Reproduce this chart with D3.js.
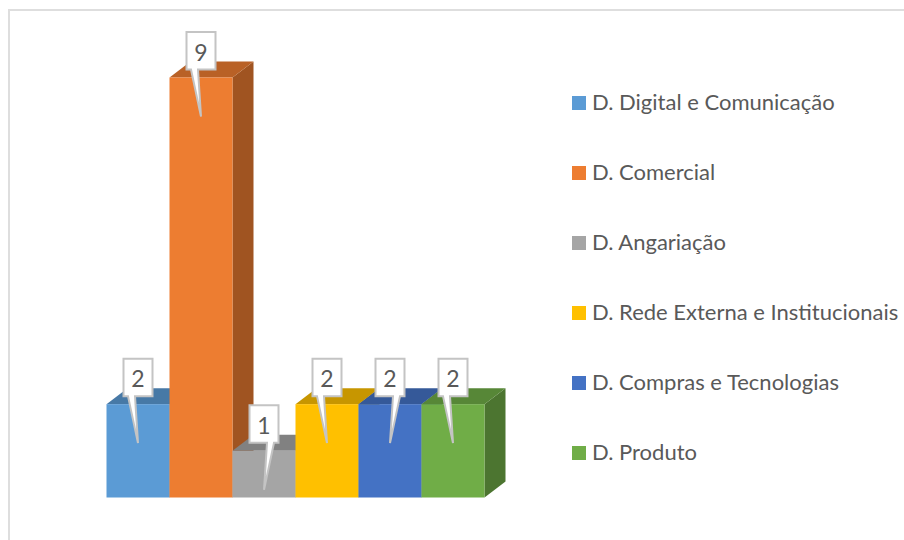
<!DOCTYPE html>
<html>
<head>
<meta charset="utf-8">
<script src="https://cdn.jsdelivr.net/npm/d3@7"></script>
<style>
  html, body { margin: 0; padding: 0; background: #fff; }
  text { font-family: Lato, sans-serif; }
</style>
</head>
<body>
<div id="chart"></div>
<script>
var categories = ['D. Digital e Comunicação', 'D. Comercial', 'D. Angariação',
    'D. Rede Externa e Institucionais', 'D. Compras e Tecnologias', 'D. Produto'];
var values = [2, 9, 1, 2, 2, 2];
var colors = ['#5b9bd5', '#ed7d31', '#a5a5a5', '#ffc000', '#4472c4', '#70ad47'];
// which side of the label the callout tail leaves from
var tailSide = [-1, -1, 1, -1, 1, -1];

var width = 904, height = 540;
var depthX = 21, depthY = 16;

var svg = d3.select('#chart').append('svg')
    .attr('width', width)
    .attr('height', height)
    .style('display', 'block');

// frame runs off the right and bottom of the picture
svg.append('rect')
    .attr('x', 9).attr('y', 10)
    .attr('width', 910).attr('height', 540)
    .attr('fill', '#fff')
    .attr('stroke', '#dedede')
    .attr('stroke-width', 2);

var x = d3.scaleBand().domain(categories).range([106.5, 484.5]);
var y = d3.scaleLinear().domain([0, 9]).range([497.5, 77.5]);

var dark = function (c, k) {
    return d3.rgb(c).darker(k).formatHex();
};

var bars = svg.selectAll('.bar')
    .data(categories)
    .enter().append('g')
    .attr('class', 'bar');

// right side, only seen where the next bar is shorter
bars.append('path')
    .attr('fill', function (d, i) { return dark(colors[i], 1.1); })
    .attr('d', function (d, i) {
        var x1 = x(d) + x.bandwidth(), top = y(values[i]);
        return 'M' + x1 + ',' + top + 'l' + depthX + ',' + (-depthY) +
            'V' + (y(0) - depthY) + 'l' + (-depthX) + ',' + depthY + 'Z';
    });

bars.append('path')
    .attr('fill', function (d, i) { return dark(colors[i], 0.7); })
    .attr('d', function (d, i) {
        var x0 = x(d), top = y(values[i]);
        return 'M' + x0 + ',' + top + 'l' + depthX + ',' + (-depthY) +
            'h' + x.bandwidth() + 'l' + (-depthX) + ',' + depthY + 'Z';
    });

bars.append('rect')
    .attr('x', function (d) { return x(d); })
    .attr('y', function (d, i) { return y(values[i]); })
    .attr('width', x.bandwidth())
    .attr('height', function (d, i) { return y(0) - y(values[i]); })
    .attr('fill', function (d, i) { return colors[i]; });

var labels = svg.selectAll('.label')
    .data(categories)
    .enter().append('g')
    .attr('class', 'label')
    .attr('transform', function (d, i) {
        return 'translate(' + (x(d) + x.bandwidth() / 2) + ',' + y(values[i]) + ')';
    });

labels.append('path')
    .attr('fill', '#fff')
    .attr('stroke', '#c4c4c4')
    .attr('stroke-width', 2)
    .attr('d', function (d, i) {
        var s = tailSide[i];
        var a = s < 0 ? -10 : 3, b = s < 0 ? -3 : 10;
        return 'M-14.5,-45.5H14.5V-8H' + b + 'L0,39L' + a + ',-8H-14.5Z';
    });

labels.append('text')
    .attr('y', -17)
    .attr('text-anchor', 'middle')
    .attr('font-size', 23)
    .attr('fill', '#595959')
    .text(function (d, i) { return values[i]; });

var legend = d3.scaleBand().domain(categories).range([68, 488]);

var items = svg.selectAll('.legend')
    .data(categories)
    .enter().append('g')
    .attr('class', 'legend')
    .attr('transform', function (d) {
        return 'translate(572,' + (legend(d) + legend.bandwidth() / 2) + ')';
    });

items.append('rect')
    .attr('y', -7)
    .attr('width', 14).attr('height', 14)
    .attr('fill', function (d, i) { return colors[i]; });

items.append('text')
    .attr('x', 20)
    .attr('y', 7)
    .attr('font-size', 22)
    .attr('fill', '#595959')
    .text(function (d) { return d; });
</script>
</body>
</html>
